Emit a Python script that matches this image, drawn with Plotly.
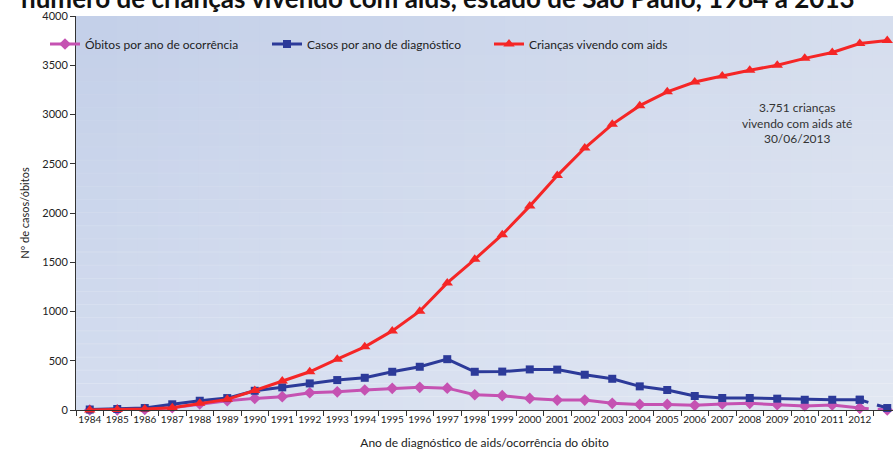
import plotly.graph_objects as go

years = list(range(1984, 2014))

obitos = [0, 2, 5, 23, 61, 94, 118, 135, 175, 185, 203, 220, 230, 222,
          155, 145, 118, 101, 101, 68, 57, 57, 47, 61, 68, 54, 41, 51, 20, 0]
casos = [5, 10, 20, 58, 94, 121, 195, 230, 270, 304, 327, 388, 439, 516,
         388, 390, 412, 410, 358, 317, 240, 203, 142, 122, 122, 115, 104, 104, 104, 20]
vivendo = [0, 5, 10, 23, 68, 108, 198, 294, 388, 516, 641, 803, 1003, 1290,
           1530, 1780, 2070, 2380, 2660, 2900, 3090, 3230, 3330, 3390, 3450,
           3500, 3570, 3630, 3720, 3751]

names = ["Óbitos por ano de ocorrência", "Casos por ano de diagnóstico",
         "Crianças vivendo com aids"]
title_text = "número de crianças vivendo com aids, estado de São Paulo, 1984 a 2013 *"
note_text = "3.751 crianças<br>vivendo com aids até<br>30/06/2013"

PINK = "#c552b2"
BLUE = "#2c3a99"
RED = "#f52626"
FONT = "Lato"

fig = go.Figure()

# solid parts (through 2012)
fig.add_trace(go.Scatter(x=years[:-1], y=obitos[:-1], name=names[0], mode="lines+markers",
                         line=dict(color=PINK, width=3),
                         marker=dict(symbol="diamond", size=9, color=PINK),
                         cliponaxis=False))
fig.add_trace(go.Scatter(x=years[:-1], y=casos[:-1], name=names[1], mode="lines+markers",
                         line=dict(color=BLUE, width=3),
                         marker=dict(symbol="square", size=8, color=BLUE),
                         cliponaxis=False))
fig.add_trace(go.Scatter(x=years, y=vivendo, name=names[2], mode="lines+markers",
                         line=dict(color=RED, width=3),
                         marker=dict(symbol="triangle-up", size=10, color=RED),
                         cliponaxis=False))
# dashed last segment 2012-2013
fig.add_trace(go.Scatter(x=years[-2:], y=obitos[-2:], mode="lines+markers", showlegend=False,
                         line=dict(color=PINK, width=3, dash="dash"),
                         marker=dict(symbol="diamond", size=9, color=PINK), cliponaxis=False))
fig.add_trace(go.Scatter(x=years[-2:], y=casos[-2:], mode="lines+markers", showlegend=False,
                         line=dict(color=BLUE, width=3, dash="dash"),
                         marker=dict(symbol="square", size=8, color=BLUE), cliponaxis=False))

# background gradient
shapes = []
ncol = 40
c0 = (196, 208, 233)
c1 = (214, 222, 238)
for i in range(ncol):
    t = i / (ncol - 1)
    col = tuple(round(c0[k] + (c1[k] - c0[k]) * t) for k in range(3))
    shapes.append(dict(type="rect", xref="paper", yref="paper",
                       x0=i / ncol, x1=(i + 1) / ncol + 0.002, y0=0, y1=1,
                       fillcolor="rgb(%d,%d,%d)" % col, line=dict(width=0), layer="below"))
nrow = 30
for j in range(nrow):
    t = j / (nrow - 1)
    a = 0.28 * (1 - t)
    shapes.append(dict(type="rect", xref="paper", yref="paper",
                       x0=0, x1=1, y0=j / nrow, y1=(j + 1) / nrow + 0.002,
                       fillcolor="rgba(255,255,255,%.3f)" % a, line=dict(width=0), layer="below"))

fig.update_layout(
    width=893, height=461,
    margin=dict(l=76, r=0, t=16, b=51, autoexpand=False),
    paper_bgcolor="white",
    plot_bgcolor="rgb(208,217,235)",
    shapes=shapes,
    font=dict(family=FONT, color="#222222"),
    title=dict(text="<b>" + title_text + "</b>", x=0.5, xanchor="center",
               y=1 - 8 / 461, yanchor="bottom", yref="container",
               font=dict(size=26, family=FONT, color="#111111")),
    legend=dict(orientation="h", xref="container", yref="container",
                x=45 / 893, xanchor="left", y=1 - 44 / 461, yanchor="middle",
                bgcolor="rgba(0,0,0,0)", font=dict(size=12, family=FONT, color="#222222"),
                entrywidth=177, entrywidthmode="pixels", itemclick=False),
    annotations=[dict(text=note_text, x=2009.7, y=2917, xref="x", yref="y",
                      showarrow=False, align="center",
                      font=dict(size=12, family=FONT, color="#333333"))],
)

fig.update_xaxes(
    range=[1983.5, 1983.5 + 817 / 27.5],
    tickvals=years, ticktext=[str(y) for y in years],
    ticks="", showgrid=False, zeroline=False,
    showline=True, linecolor="#333333", linewidth=1,
    tickfont=dict(size=10, family=FONT, color="#222222"),
    minor=dict(tick0=1983.5, dtick=1, ticks="outside", ticklen=5, tickcolor="#333333", showgrid=False),
    title=dict(text="Ano de diagnóstico de aids/ocorrência do óbito",
               font=dict(size=12, family=FONT, color="#222222"), standoff=14),
)
fig.update_yaxes(
    range=[0, 4000], dtick=500, tick0=0,
    ticks="outside", ticklen=5, tickcolor="#333333",
    showgrid=False, zeroline=False,
    showline=True, linecolor="#333333", linewidth=1,
    tickfont=dict(size=11, family=FONT, color="#222222"),
    title=dict(text="Nº de casos/óbitos", font=dict(size=11, family=FONT, color="#222222"),
               standoff=10),
)

fig.write_html("out.html")
